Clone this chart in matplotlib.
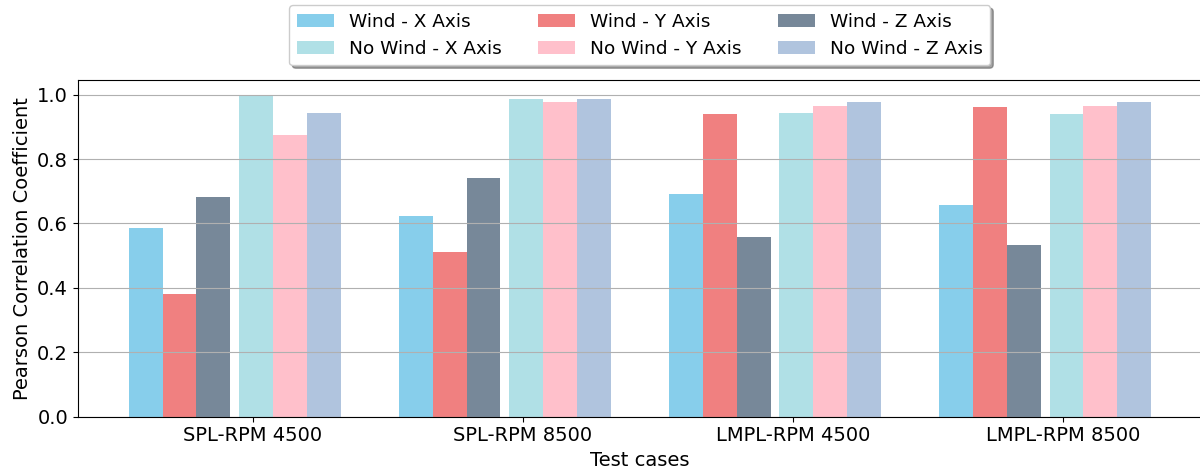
import matplotlib
matplotlib.use("Agg")
import matplotlib.pyplot as plt
import numpy as np

categories = ["SPL-RPM 4500", "SPL-RPM 8500", "LMPL-RPM 4500", "LMPL-RPM 8500"]

wind_x = [0.587, 0.623, 0.693, 0.658]
wind_y = [0.382, 0.513, 0.940, 0.962]
wind_z = [0.681, 0.741, 0.557, 0.532]
nowind_x = [0.995, 0.988, 0.944, 0.940]
nowind_y = [0.874, 0.978, 0.966, 0.966]
nowind_z = [0.943, 0.988, 0.978, 0.978]

series = [
    ("Wind - X Axis", wind_x, "skyblue"),
    ("Wind - Y Axis", wind_y, "lightcoral"),
    ("Wind - Z Axis", wind_z, "lightslategray"),
    ("No Wind - X Axis", nowind_x, "powderblue"),
    ("No Wind - Y Axis", nowind_y, "pink"),
    ("No Wind - Z Axis", nowind_z, "lightsteelblue"),
]

width = 0.1255
offsets = [-0.395, -0.27, -0.145, 0.013, 0.138, 0.263]

fig = plt.figure(figsize=(12, 4.75), dpi=100)
ax = fig.add_axes([0.0648, 0.1227, 0.937, 0.7083])

x = np.arange(len(categories))
handles = []
for (label, vals, color), off in zip(series, offsets):
    h = ax.bar(x + off, vals, width, label=label, color=color)
    handles.append(h)

ax.set_xticks(x)
ax.set_xticklabels(categories, fontsize=14)
ax.tick_params(axis="y", labelsize=14)
ax.set_xlabel("Test cases", fontsize=14)
ax.set_ylabel("Pearson Correlation Coefficient", fontsize=14)
ax.yaxis.grid(True)
ax.spines["right"].set_visible(False)

# row-wise ordering for a 3-column legend
order = [0, 3, 1, 4, 2, 5]
ax.legend([handles[i] for i in order], [series[i][0] for i in order],
          loc="upper center", bbox_to_anchor=(0.5, 1.25), ncol=3,
          fontsize=13.3, shadow=True, fancybox=True)

fig.savefig("out.png", dpi=100)
